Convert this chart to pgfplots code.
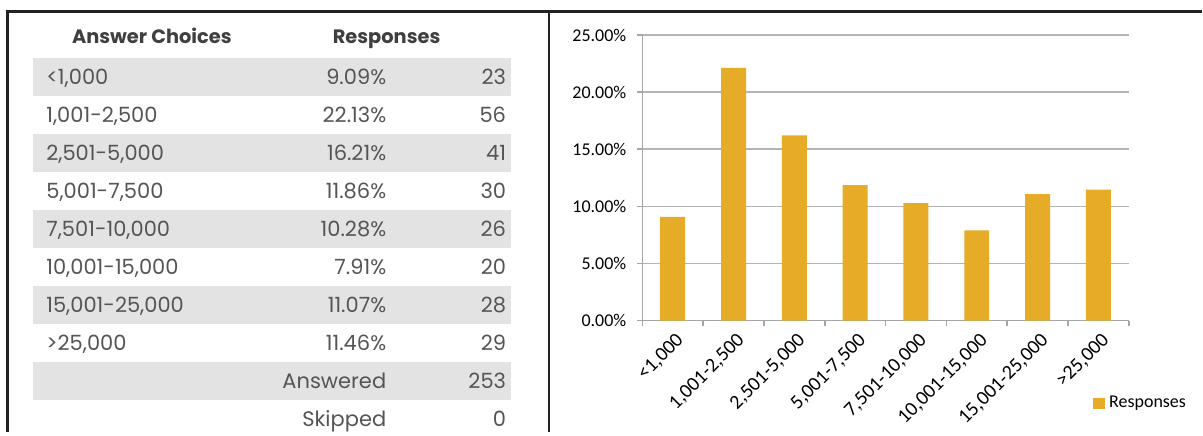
\documentclass[border=0pt]{standalone}
\usepackage{pgfplots}
\pgfplotsset{compat=1.18}
\usepackage{fontspec}
\setmainfont{Poppins}
\newfontfamily\carlito{Carlito}
\definecolor{bargold}{HTML}{E6AC27}
\definecolor{stripe}{HTML}{E3E3E3}
\definecolor{tabtext}{HTML}{555555}
\definecolor{headtext}{HTML}{3F3F3F}
\definecolor{gridgray}{HTML}{B4B4B4}
\definecolor{axisgray}{HTML}{A6A6A6}
\definecolor{framecol}{HTML}{222222}
\newcommand{\tabfont}{\fontsize{10.5}{12}\selectfont}
\newcommand{\headfont}{\bfseries\fontsize{9.7}{12}\selectfont}
\newcommand{\tickfont}{\carlito\fontsize{9}{10}\selectfont}
\newcommand{\xtickfont}{\carlito\fontsize{10}{11}\selectfont}
\begin{document}
\begin{tikzpicture}
% left panel: table, in pixel coordinates of the picture
\begin{axis}[name=base, at={(0,0)}, anchor=south west,
    scale only axis, width=601.5pt, height=216pt,
    xmin=0, xmax=1203, ymin=0, ymax=432, y dir=reverse,
    hide axis, clip=false]
\addplot[fill=white, draw=none] coordinates {(0,0) (1203,0) (1203,432) (0,432)};
% striped rows
\addplot[fill=stripe, draw=none] coordinates {(33,58) (512,58) (512,96) (33,96)};
\addplot[fill=stripe, draw=none] coordinates {(33,134) (512,134) (512,172) (33,172)};
\addplot[fill=stripe, draw=none] coordinates {(33,210) (512,210) (512,248) (33,248)};
\addplot[fill=stripe, draw=none] coordinates {(33,286) (512,286) (512,324) (33,324)};
\addplot[fill=stripe, draw=none] coordinates {(33,362) (512,362) (512,400) (33,400)};
% frame
\draw[framecol, line width=1.3pt] (axis cs:7.5,432) -- (axis cs:7.5,11.5) -- (axis cs:1203,11.5);
\draw[framecol, line width=1.3pt] (axis cs:549.5,11.5) -- (axis cs:549.5,432);
% header
\node[anchor=base, font=\headfont, text=headtext, inner sep=0pt] at (axis cs:152,43.5) {Answer Choices};
\node[anchor=base, font=\headfont, text=headtext, inner sep=0pt] at (axis cs:387,43.5) {Responses};
% rows
\begin{scope}[every node/.style={font=\tabfont, text=tabtext, inner sep=0pt}]
\node[anchor=base west] at (axis cs:46,85) {<1,000};
\node[anchor=base east] at (axis cs:387,85) {9.09\%};
\node[anchor=base east] at (axis cs:507,85) {23};
\node[anchor=base west] at (axis cs:46,123) {1,001-2,500};
\node[anchor=base east] at (axis cs:387,123) {22.13\%};
\node[anchor=base east] at (axis cs:507,123) {56};
\node[anchor=base west] at (axis cs:46,161) {2,501-5,000};
\node[anchor=base east] at (axis cs:387,161) {16.21\%};
\node[anchor=base east] at (axis cs:507,161) {41};
\node[anchor=base west] at (axis cs:46,199) {5,001-7,500};
\node[anchor=base east] at (axis cs:387,199) {11.86\%};
\node[anchor=base east] at (axis cs:507,199) {30};
\node[anchor=base west] at (axis cs:46,237) {7,501-10,000};
\node[anchor=base east] at (axis cs:387,237) {10.28\%};
\node[anchor=base east] at (axis cs:507,237) {26};
\node[anchor=base west] at (axis cs:46,275) {10,001-15,000};
\node[anchor=base east] at (axis cs:387,275) {7.91\%};
\node[anchor=base east] at (axis cs:507,275) {20};
\node[anchor=base west] at (axis cs:46,313) {15,001-25,000};
\node[anchor=base east] at (axis cs:387,313) {11.07\%};
\node[anchor=base east] at (axis cs:507,313) {28};
\node[anchor=base west] at (axis cs:46,351) {>25,000};
\node[anchor=base east] at (axis cs:387,351) {11.46\%};
\node[anchor=base east] at (axis cs:507,351) {29};
\node[anchor=base east] at (axis cs:387,389) {Answered};
\node[anchor=base east] at (axis cs:507,389) {253};
\node[anchor=base east] at (axis cs:387,427) {Skipped};
\node[anchor=base east] at (axis cs:507,427) {0};
\end{scope}
\coordinate (cSW) at (axis cs:643,321);
\end{axis}
% right panel: bar chart
\begin{axis}[at={(cSW)}, anchor=south west,
    scale only axis, width=243.5pt, height=143pt,
    ybar, bar width=12.5pt,
    xmin=-0.5, xmax=7.5, ymin=0, ymax=25,
    xtick={-0.5,0.5,1.5,2.5,3.5,4.5,5.5,6.5,7.5},
    x tick label as interval,
    xticklabels={{<1,000},{1,001-2,500},{2,501-5,000},{5,001-7,500},{7,501-10,000},{10,001-15,000},{15,001-25,000},{>25,000}},
    ytick={0,5,10,15,20,25},
    yticklabel={\pgfmathprintnumber[fixed,fixed zerofill,precision=2]{\tick}\%},
    /pgf/number format/assume math mode=true,
    axis x line*=bottom, axis y line*=left,
    axis line style={draw=axisgray, line width=0.8pt},
    ymajorgrids, grid style={draw=gridgray, line width=0.8pt},
    tick align=outside, major tick length=2.5pt,
    tick style={draw=axisgray, line width=0.8pt},
    tick label style={font=\tickfont, text=black},
    xticklabel style={font=\xtickfont, rotate=45, anchor=east, xshift=2pt, yshift=-7pt},
    yticklabel style={xshift=-2pt},
    legend style={draw=none, fill=none, at={(0.926,-0.29)}, anchor=west,
        font=\tickfont, inner sep=0pt},
    legend image code/.code={\fill[bargold] (0pt,-3pt) rectangle (6pt,3pt);},
]
\addplot[fill=bargold, draw=none] coordinates {
(0,9.09) (1,22.13) (2,16.21) (3,11.86) (4,10.28) (5,7.91) (6,11.07) (7,11.46)};
\addlegendentry{Responses}
\end{axis}
\end{tikzpicture}
\end{document}
